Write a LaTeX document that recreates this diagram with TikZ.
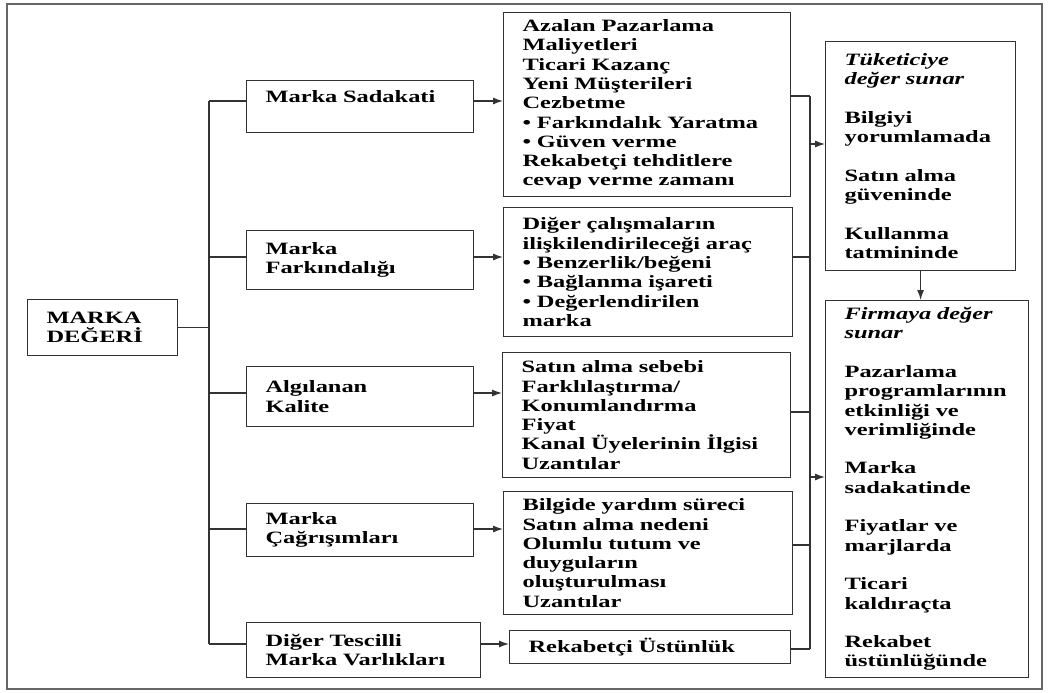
\documentclass[tikz,border=0pt]{standalone}
\usepackage{fontspec}
\setmainfont{Liberation Serif}[FakeStretch=1.41]
\usetikzlibrary{arrows.meta}
\definecolor{linegray}{HTML}{333333}
\definecolor{framegray}{HTML}{666666}
\tikzset{
  box/.style={draw=linegray, line width=1.2pt, anchor=north west, align=left,
    inner xsep=19pt, inner ysep=0pt, font=\fontsize{17.3}{19.3}\selectfont\bfseries},
  link/.style={draw=linegray, line width=1.2pt},
  arr/.style={link, -{Latex[length=10pt,width=7pt]}},
}

\begin{document}
\begin{tikzpicture}[x=1pt,y=-1pt]
  \useasboundingbox (0,0) rectangle (1049,693);
  \draw[framegray, line width=1.5pt] (7,4) rectangle (1042,689);

  % root
  \node[box, text width=112pt, minimum height=56pt] (md) at (27,299) {MARKA\\DEĞERİ};

  % dimensions
  \node[box, text width=189pt, minimum height=52pt] (ms) at (246,80) {Marka Sadakati\\\mbox{}};
  \node[box, text width=189pt, minimum height=59pt] (mf) at (246,230) {Marka\\Farkındalığı};
  \node[box, text width=189pt, minimum height=60pt] (ak) at (246,366) {Algılanan\\Kalite};
  \node[box, text width=189pt, minimum height=53pt] (mc) at (246,503) {Marka\\Çağrışımları};
  \node[box, text width=196pt, minimum height=55pt] (dt) at (246,622) {Diğer Tescilli\\Marka Varlıkları};

  % contributions
  \node[box, text width=249pt, minimum height=184pt] (a) at (503,12)
    {Azalan Pazarlama\\Maliyetleri\\Ticari Kazanç\\Yeni Müşterileri\\Cezbetme\\
     • Farkındalık Yaratma\\• Güven verme\\Rekabetçi tehditlere\\cevap verme zamanı};
  \node[box, text width=251pt, minimum height=129pt] (b) at (503,207)
    {Diğer çalışmaların\\ilişkilendirileceği araç\\• Benzerlik/beğeni\\
     • Bağlanma işareti\\• Değerlendirilen\\marka};
  \node[box, text width=250pt, minimum height=125pt] (c) at (502,352)
    {Satın alma sebebi\\Farklılaştırma/\\Konumlandırma\\Fiyat\\
     Kanal Üyelerinin İlgisi\\Uzantılar};
  \node[box, text width=251pt, minimum height=123pt] (d) at (503,491)
    {Bilgide yardım süreci\\Satın alma nedeni\\Olumlu tutum ve\\duyguların\\
     oluşturulması\\Uzantılar};
  \node[box, text width=243pt, minimum height=33pt] (e) at (509,630) {Rekabetçi Üstünlük};

  % value
  \node[box, text width=152pt, minimum height=229pt] (tk) at (825,41)
    {\textit{Tüketiciye}\\\textit{değer sunar}\\[19.3pt]
     Bilgiyi\\yorumlamada\\[19.3pt]Satın alma\\güveninde\\[19.3pt]
     Kullanma\\tatmininde};
  \node[box, text width=165pt, minimum height=377pt] (fd) at (825,300)
    {\textit{Firmaya değer}\\\textit{sunar}\\[19.3pt]
     Pazarlama\\programlarının\\etkinliği ve\\verimliğinde\\[19.3pt]
     Marka\\sadakatinde\\[19.3pt]Fiyatlar ve\\marjlarda\\[19.3pt]
     Ticari\\kaldıraçta\\[19.3pt]Rekabet\\üstünlüğünde};

  % left tree
  \coordinate (t1) at (209,101);
  \coordinate (t2) at (209,257);
  \coordinate (t3) at (209,393);
  \coordinate (t4) at (209,529);
  \coordinate (t5) at (209,644);
  \draw[link] (md.east) -- (md.east -| t1);
  \draw[link] (t1) -- (t5);
  \foreach \t/\n/\m in {t1/ms/a, t2/mf/b, t3/ak/c, t4/mc/d, t5/dt/e} {
    \draw[link] (\t) -- (\t -| \n.west);
    \draw[arr] (\t -| \n.east) -- (\t -| \m.west);
  }

  % right merge
  \coordinate (r1) at (810,96);
  \coordinate (r2) at (810,257);
  \coordinate (r3) at (810,412);
  \coordinate (r4) at (810,545);
  \coordinate (r5) at (810,649);
  \foreach \r/\m in {r1/a, r2/b, r3/c, r4/d, r5/e}
    \draw[link] (\r -| \m.east) -- (\r);
  \draw[link] (r1) -- (r5);
  \coordinate (k1) at (810,144);
  \coordinate (k2) at (810,477);
  \draw[arr] (k1) -- (k1 -| tk.west);
  \draw[arr] (k2) -- (k2 -| fd.west);
  \draw[arr] (tk.south) -- (tk.south |- fd.north);
\end{tikzpicture}
\end{document}
